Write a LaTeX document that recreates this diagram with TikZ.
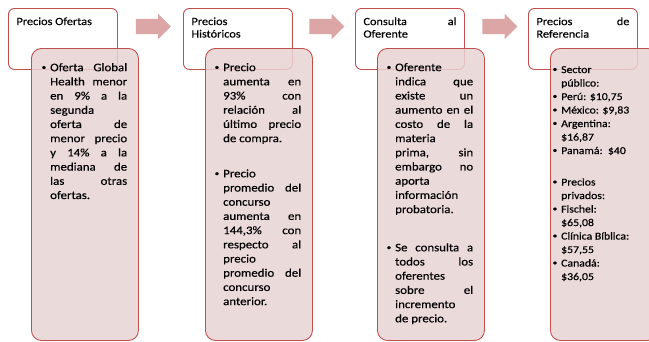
\documentclass[tikz,border=0pt]{standalone}
\usepackage{fontspec}
\setmainfont[FakeStretch=1.12,FakeBold=0.35]{Carlito}
\usepackage{tikz}
\usetikzlibrary{shapes.arrows,positioning}
\definecolor{boxred}{RGB}{192,80,77}
\definecolor{boxpink}{RGB}{232,211,211}
\definecolor{arrowpink}{RGB}{221,166,166}
\newcommand{\linecolor}{boxred}
\newcommand{\thickness}{0.9pt}
\newcommand{\jl}[1]{\makebox[\linewidth][s]{#1}}
\newcommand{\bul}{\leavevmode\llap{\raisebox{0.25ex}{\fontsize{8}{8}\selectfont\textbullet}\hspace{4pt}}}
\tikzset{
  headbox/.style={draw=\linecolor, line width=\thickness, fill=white, rounded corners=6pt,
    anchor=north west, inner xsep=8pt, inner ysep=9pt, font=\fontsize{11}{12.5}\selectfont},
  bodybox/.style={draw=\linecolor, line width=\thickness, fill=boxpink, fill opacity=0.85,
    rounded corners=10pt, anchor=north west, minimum width=107pt, minimum height=292pt, inner sep=0pt},
  bodytext/.style={anchor=north west, inner sep=0pt, font=\fontsize{11.5}{14.2}\selectfont},
  blockarrow/.style={single arrow, fill=arrowpink, minimum height=35pt, inner xsep=0pt,
    inner ysep=7.5pt, text height=0pt, text depth=0pt, single arrow head extend=5pt}
}

\begin{document}
\begin{tikzpicture}[x=1pt,y=-1pt]
\useasboundingbox (0,0) rectangle (649,341);
%1
\node[headbox] (h1) at (8,8) {\parbox[t][43pt][t]{93pt}{Precios Ofertas}};
\node[bodybox] (b1) at (31,48) {};
\node[bodytext] (l1) at ([xshift=19pt,yshift=-15pt]b1.north west) {\parbox[t]{77pt}{\raggedright
\bul\jl{Oferta Global}\\
\jl{Health menor}\\
\jl{en 9\% a la}\\
segunda\\
\jl{oferta de}\\
\jl{menor precio}\\
\jl{y 14\% a la}\\
\jl{mediana de}\\
\jl{las otras}\\
ofertas.}};
\node[blockarrow] (a1) at (149.5,26.5) {};
%2
\node[headbox] (h2) at (183,8) {\parbox[t][43pt][t]{93pt}{Precios\\Históricos}};
\node[bodybox] (b2) at (205,48) {};
\node[bodytext] (l2) at ([xshift=18pt,yshift=-15pt]b2.north west) {\parbox[t]{78pt}{\raggedright
\bul Precio\\
\jl{aumenta en}\\
\jl{93\% con}\\
\jl{relación al}\\
\jl{último precio}\\
de compra.\\[21pt]
\bul Precio\\
\jl{promedio del}\\
concurso\\
\jl{aumenta en}\\
\jl{144,3\% con}\\
\jl{respecto al}\\
precio\\
\jl{promedio del}\\
concurso\\
anterior.}};
\node[blockarrow] (a2) at (323,26.5) {};
%3
\node[headbox] (h3) at (355,8) {\parbox[t][43pt][t]{93pt}{\jl{Consulta al}\\Oferente}};
\node[bodybox] (b3) at (377,48) {};
\node[bodytext] (l3) at ([xshift=18pt,yshift=-15pt]b3.north west) {\parbox[t]{78pt}{\raggedright
\bul Oferente\\
\jl{indica que}\\
\jl{existe un}\\
\jl{aumento en el}\\
\jl{costo de la}\\
materia\\
\jl{prima, sin}\\
\jl{embargo no}\\
aporta\\
información\\
probatoria.\\[24pt]
\bul\jl{Se consulta a}\\
\jl{todos los}\\
oferentes\\
\jl{sobre el}\\
incremento\\
de precio.}};
\node[blockarrow] (a3) at (496,26.5) {};
%4
\node[headbox] (h4) at (528,8) {\parbox[t][43pt][t]{93pt}{\jl{Precios de}\\Referencia}};
\node[bodybox] (b4) at (550,48) {};
\node[bodytext, font=\fontsize{10.5}{13.5}\selectfont] (l4) at ([xshift=11pt,yshift=-18pt]b4.north west) {\parbox[t]{88pt}{\raggedright
\bul Sector\\
público:\\
\bul Perú: \$10,75\\
\bul México: \$9,83\\
\bul Argentina:\\
\$16,87\\
\bul Panamá:\ \ \$40\\[18pt]
\bul Precios\\
privados:\\
\bul Fischel:\\
\$65,08\\
\bul Clínica Bíblica:\\
\$57,55\\
\bul Canadá:\\
\$36,05}};
\end{tikzpicture}
\end{document}
